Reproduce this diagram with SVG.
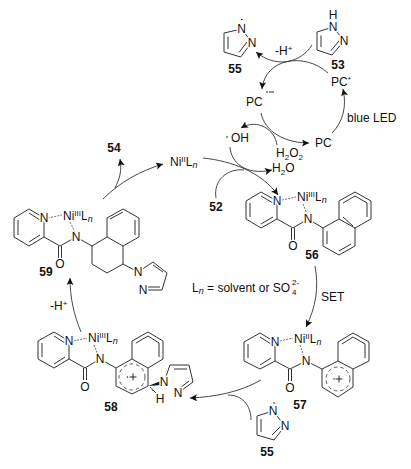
<svg xmlns="http://www.w3.org/2000/svg" width="411" height="469" viewBox="0 0 411 469">
<style>
text{font-family:"Liberation Sans",Arial,sans-serif;font-size:12px;fill:#111}
.b{font-weight:bold;text-anchor:middle}
.a{text-anchor:middle;stroke:#fff;stroke-width:3px;paint-order:stroke;stroke-linejoin:round}
.ni{stroke:#fff;stroke-width:2px;paint-order:stroke}
.s{fill:none;stroke:#333;stroke-width:1;stroke-linejoin:round}
.d{fill:none;stroke:#444;stroke-width:.8;stroke-dasharray:2 1.2}
.c{fill:none;stroke:#333;stroke-width:.9}
.r{fill:none;stroke:#444;stroke-width:.9;stroke-dasharray:3.5 3}
.u{font-size:8px}
</style>
<defs>
<marker id="ah" markerUnits="userSpaceOnUse" markerWidth="9" markerHeight="8" refX="7" refY="3.5" orient="auto"><path d="M0 0L7 3.5L0 7L1.5 3.5Z" fill="#111"/></marker>
</defs>
<g id="connectors">
<path class="c" marker-end="url(#ah)" d="M312,45C300,64 275,68 256,52"/>
<path class="c" marker-end="url(#ah)" d="M328,73C305,52 265,58 262,89"/>
<path class="c" marker-end="url(#ah)" d="M332,133C343,122 347,106 343,89"/>
<path class="c" marker-end="url(#ah)" d="M261,113C265,132 285,143 309,143"/>
<path class="c" marker-end="url(#ah)" d="M277,145C275,130 258,118 241,128"/>
<path class="c" marker-end="url(#ah)" d="M230,147C231,162 245,176 272,170"/>
<path class="c" marker-end="url(#ah)" d="M203,158C232,161 261,172 278,195"/>
<path class="c" d="M216,198C213,180 228,168 244,170"/>
<path class="c" marker-end="url(#ah)" d="M103,199C120,182 140,171 163,164"/>
<path class="c" marker-end="url(#ah)" d="M115,188C120,178 122,170 120,159"/>
<path class="c" marker-end="url(#ah)" d="M315,266C319,287 316,307 306,327"/>
<path class="c" marker-end="url(#ah)" d="M261,380C240,392 215,397 190,398"/>
<path class="c" d="M251,420C251,405 242,395 228,395"/>
<path class="c" marker-end="url(#ah)" d="M81,332C74,315 70,298 70,278"/>
</g>
<g id="n55top">
<path class="s" d="M241.7,29L224,33V52L240.7,57L251.7,42.3ZM228,36.500V49M239,52.500L247,42"/>
<circle cx="241.700" cy="19.500" r=".8" fill="#111"/>
<text class="a" x="241.700" y="33">N</text><text class="a" x="252" y="47">N</text>
<text class="b" x="235" y="73">55</text>
</g>
<g id="n53">
<path class="s" d="M333,27L317,32V50L332,55L344,41ZM321,35.500V47M331,50.500L339,41"/>
<text class="a" x="333" y="19">H</text><text class="a" x="333" y="31">N</text><text class="a" x="344" y="45">N</text>
<text class="b" x="338" y="69">53</text>
</g>
<g id="labels">
<text x="275" y="55">-H<tspan class="u" dy="-4">+</tspan></text>
<text x="331" y="86">PC<tspan class="u" dy="-4">*</tspan></text>
<text x="246" y="106">PC</text>
<circle cx="267" cy="92" r=".8" fill="#111"/><path d="M269,92H274" stroke="#111" stroke-width=".9"/>
<text x="315" y="147">PC</text>
<text x="347" y="122">blue LED</text>
<circle cx="227" cy="137" r=".8" fill="#111"/>
<text x="231" y="142">OH</text>
<text x="276" y="157" class="ni">H<tspan class="u" dy="3">2</tspan><tspan dy="-3">O</tspan><tspan class="u" dy="3">2</tspan></text>
<text x="272" y="172">H<tspan class="u" dy="3">2</tspan><tspan dy="-3">O</tspan></text>
<text class="b" x="216" y="211">52</text>
<text class="b" x="114" y="152">54</text>
<text x="170" y="166">Ni<tspan class="u" dy="-4">II</tspan><tspan dy="4">L</tspan><tspan dy="2" font-style="italic" style="font-size:9px">n</tspan></text>
<text x="192" y="292">L<tspan dy="2" font-style="italic" style="font-size:9px">n</tspan><tspan dy="-2"> = solvent or SO</tspan></text>
<text class="u" x="292" y="295">4</text><text class="u" x="292" y="285">2-</text>
<text x="321" y="301">SET</text>
<text x="50" y="310">-H<tspan class="u" dy="-4">+</tspan></text>
</g>
<g id="n59">
<path class="s" d="M44,218L29,209L14,218V237L29,246L44,237ZM29,213L40,220M18,220V235M29,242L40,235M44,237L60,246L76,237M58.500,246V258M61.500,246V258M76,237L92,246L107,237L123,246L123,264L107,273L92,264V246M107,237V218L123,209L139,218V237L123,246M110,219L123,212M135,220V235M123,264L138,272M143,290H162L167,273L153,262L138,272M148,287H160M163,272L153,265"/>
<path class="d" d="M48,218L62,215M70,222L75,232"/>
<text class="a" x="44" y="222">N</text><text class="a" x="76" y="241">N</text><text class="a" x="60" y="268">O</text><text class="a" x="138" y="276">N</text><text class="a" x="143" y="294">N</text>
<text x="63" y="220" class="ni">Ni<tspan class="u" dy="-4">III</tspan><tspan dy="4">L</tspan><tspan dy="2" font-style="italic" style="font-size:9px">n</tspan></text>
<text class="b" x="46" y="276">59</text>
</g>
<g id="n56">
<path class="s" d="M277,201L261,192L246,201V219L261,228L277,219ZM261,196L273,203M250,203V217M261,224L273,217M277,219L293,228L308,219M291.500,228V240M294.500,228V240M308,219L323,228L339,219L355,228V246L339,255L323,246V228M339,219V201L355,192L371,201V219L355,228M355,196L367,203M367,203V217M343,203L355,196M327,231V244M339,251L351,244M343,217L353,226"/>
<path class="d" d="M282,200L296,197M303,204L307,214"/>
<text class="a" x="277" y="205">N</text><text class="a" x="308" y="223">N</text><text class="a" x="293" y="250">O</text>
<text x="297" y="201" class="ni">Ni<tspan class="u" dy="-4">III</tspan><tspan dy="4">L</tspan><tspan dy="2" font-style="italic" style="font-size:9px">n</tspan></text>
<text class="b" x="312" y="259">56</text>
</g>
<g id="n57">
<path class="s" d="M275,342L260,333L244,342V361L260,369L275,361ZM260,337L271,344M248,344V358M260,365L271,358M275,361L290,369L306,361M288.500,369V381M291.500,369V381M306,361L322,369L338,361L353,369V387L338,397L322,387V369M338,361V342L353,333L369,342V361L353,369M353,337L365,344M365,344V358M342,344L353,337"/>
<path class="d" d="M280,341L293,338M300,345L304,356"/>
<circle class="r" cx="338" cy="379" r="12"/>
<path d="M335.500,379H342.500M339,375.500V382.500" stroke="#111" stroke-width=".9"/><circle cx="334" cy="379" r=".7" fill="#111"/>
<text class="a" x="275" y="346">N</text><text class="a" x="306" y="365">N</text><text class="a" x="290" y="392">O</text>
<text x="294" y="343" class="ni">Ni<tspan class="u" dy="-4">II</tspan><tspan dy="4">L</tspan><tspan dy="2" font-style="italic" style="font-size:9px">n</tspan></text>
<text class="b" x="300" y="409">57</text>
</g>
<g id="n58">
<path class="s" d="M69,341L54,332L38,341V359L54,368L69,359ZM54,336L65,343M42,343V357M54,364L65,357M69,359L85,368L100,359M83.500,368V380M86.500,368V380M100,359L116,368L132,359L148,368V386L132,394L116,386V368M132,359V341L148,332L163,341V359L148,368M148,336L159,343M159,343V357M136,343L148,336M178,393L193,382L189,365H170L164,382M174,369H187M189,381L180,388"/>
<path d="M148,386L161,381L162,385Z" fill="#111"/>
<path d="M151,388L150,387M153,391L151.500,388M156,393L153,390" stroke="#444" stroke-width="1"/>
<path class="d" d="M74,341L87,338M94,345L98,355"/>
<circle class="r" cx="132" cy="377" r="13"/>
<path d="M129.500,377H136.500M133,373.500V380.500" stroke="#111" stroke-width=".9"/><circle cx="127.500" cy="377" r=".7" fill="#111"/>
<text class="a" x="69" y="345">N</text><text class="a" x="100" y="363">N</text><text class="a" x="85" y="391">O</text><text class="a" x="164" y="386">N</text><text class="a" x="178" y="397">N</text><text class="a" x="160" y="403">H</text>
<text x="88" y="342" class="ni">Ni<tspan class="u" dy="-4">III</tspan><tspan dy="4">L</tspan><tspan dy="2" font-style="italic" style="font-size:9px">n</tspan></text>
<text class="b" x="111" y="411">58</text>
</g>
<g id="n55bottom">
<path class="s" d="M273,411L257,416V435L274,440L285,426ZM261,419V432M272,435L281,426"/>
<circle cx="274" cy="403" r=".8" fill="#111"/>
<text class="a" x="273" y="415">N</text><text class="a" x="285" y="430">N</text>
<text class="b" x="267" y="456">55</text>
</g>
</svg>
